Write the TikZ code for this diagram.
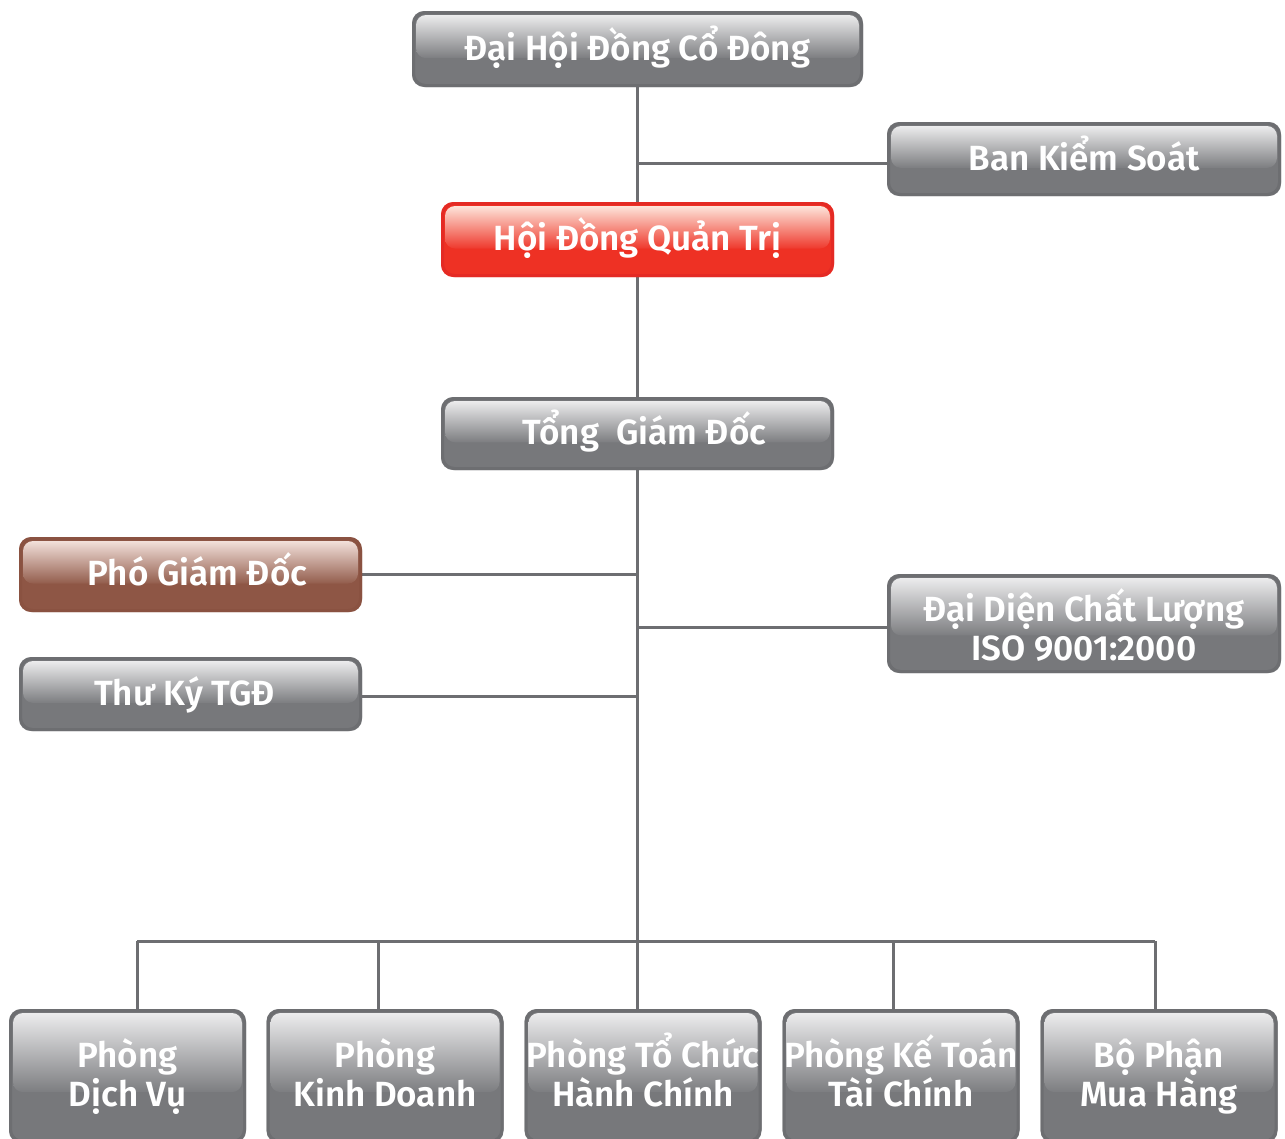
\documentclass[tikz,border=0pt]{standalone}
\usepackage{fontspec}
\IfFontExistsTF{Fira Sans SemiBold}
  {\newfontfamily\fsemi{Fira Sans SemiBold}\newcommand\boxweight{}}
  {\newfontfamily\fsemi{Fira Sans}\newcommand\boxweight{\bfseries}}
\usetikzlibrary{calc,backgrounds}
\newcommand\linetop[1]{\rule{0pt}{#1}}
\newcommand\linebot[1]{\rule[-#1]{0pt}{#1}}
\definecolor{gbase}{HTML}{77787B}
\definecolor{gbord}{HTML}{6D6E71}
\definecolor{ghi}{HTML}{ECECED}
\definecolor{rbase}{HTML}{EE3124}
\definecolor{rbord}{HTML}{E42A24}
\definecolor{rhi}{HTML}{FDE4DA}
\definecolor{bbase}{HTML}{8E5645}
\definecolor{bbord}{HTML}{8A5241}
\definecolor{bhi}{HTML}{F2E0DA}
\definecolor{wire}{HTML}{6D6E71}
\pgfdeclareverticalshading{glossg}{100bp}{color(0bp)=(gbase!96!white); color(25bp)=(gbase!96!white); color(75bp)=(ghi); color(100bp)=(ghi)}
\pgfdeclareverticalshading{glossr}{100bp}{color(0bp)=(rbase!96!white); color(25bp)=(rbase!96!white); color(75bp)=(rhi); color(100bp)=(rhi)}
\pgfdeclareverticalshading{glossb}{100bp}{color(0bp)=(bbase!96!white); color(25bp)=(bbase!96!white); color(75bp)=(bhi); color(100bp)=(bhi)}
\tikzset{
  box/.style={draw=#1, line width=3pt, rounded corners=12pt,
    text=white, font=\fsemi\boxweight\fontsize{35}{39}\selectfont, align=center, inner sep=0pt},
  gbox/.style={box=gbord},
  rbox/.style={box=rbord},
  bbox/.style={box=bbord},
  oneline/.style={text height=26pt, text depth=4pt},
  wireline/.style={draw=wire, line width=3pt},
  boxfill/.style={fill=#1, rounded corners=12pt},
  gloss/.style={shading=#1, rounded corners=10pt},
  dept/.style={gbox, minimum width=234pt, minimum height=131pt},
}
\begin{document}
\begin{tikzpicture}
\useasboundingbox (0,0) rectangle (1285pt,-1138pt);
% coordinates
\coordinate (bus) at (637.5pt,-941pt);
\coordinate (busL) at (137pt,-941pt);
\coordinate (busR) at (1155pt,-941pt);
\coordinate (b2) at (378pt,-941pt);
\coordinate (b4) at (893pt,-941pt);
% nodes
\node[gbox, oneline, minimum width=448pt, minimum height=73pt] (dh) at (637.5pt,-49pt) {Đại Hội Đồng Cổ Đông};
\node[gbox, oneline, minimum width=391pt, minimum height=71pt] (bks) at (1084pt,-159pt) {Ban Kiểm Soát};
\node[rbox, oneline, minimum width=390pt, minimum height=72pt] (hdqt) at (637.5pt,-239.5pt) {Hội Đồng Quản Trị};
\node[gbox, oneline, minimum width=390pt, minimum height=70pt] (tgd) at (637.5pt,-433.5pt) {\hspace*{14pt}Tổng\ \ Giám Đốc};
\node[bbox, oneline, minimum width=340pt, minimum height=72pt] (pgd) at (190.5pt,-574.5pt) {\hspace*{14pt}Phó Giám Đốc};
\node[gbox, oneline, minimum width=340pt, minimum height=71pt] (tk) at (190.5pt,-694pt) {Thư Ký TGĐ\hspace*{12pt}};
\node[gbox, minimum width=391pt, minimum height=96pt] (dd) at (1084pt,-623.5pt) {\linetop{38pt}Đại Diện Chất Lượng\\ISO 9001:2000\linebot{4pt}};
\node[dept] (p1) at (127.5pt,-1076pt) {\linetop{36pt}Phòng\\Dịch Vụ\linebot{15pt}};
\node[dept] (p2) at (385pt,-1076pt) {\linetop{36pt}Phòng\\Kinh Doanh\linebot{15pt}};
\node[dept] (p3) at (643pt,-1076pt) {\linetop{36pt}Phòng Tổ Chức\\Hành Chính\linebot{15pt}};
\node[dept] (p4) at (901pt,-1076pt) {\linetop{36pt}Phòng Kế Toán\\Tài Chính\linebot{15pt}};
\node[dept] (p5) at (1159pt,-1076pt) {\linetop{36pt}Bộ Phận\\Mua Hàng\linebot{15pt}};
\begin{pgfonlayer}{background}
% connectors
\draw[wireline] (dh.south) -- (bus);
\draw[wireline] (busL) -- (busR);
\draw[wireline] ([yshift=-4pt]bks.west) -- ([yshift=-4pt]bks.west -| dh.south);
\draw[wireline] (pgd.east) -- (pgd.east -| dh.south);
\draw[wireline] ([yshift=-4pt]dd.west) -- ([yshift=-4pt]dd.west -| dh.south);
\draw[wireline] ([yshift=-2pt]tk.east) -- ([yshift=-2pt]tk.east -| dh.south);
\draw[wireline] (busL) -- ([yshift=-6pt]busL |- p1.north);
\draw[wireline] (b2) -- (b2 |- p2.north);
\draw[wireline] (bus) -- (bus |- p3.north);
\draw[wireline] (b4) -- (b4 |- p4.north);
\draw[wireline] (busR) -- ([yshift=-6pt]busR |- p5.north);
% box fills and gloss
\foreach \n/\c in {dh/g,bks/g,hdqt/r,tgd/g,pgd/b,tk/g,dd/g,p1/g,p2/g,p3/g,p4/g,p5/g}{
  \fill[boxfill=\c base] (\n.north west) rectangle (\n.south east);
  \shade[gloss=gloss\c] ([shift={(4pt,-4pt)}]\n.north west) rectangle ($(\n.north east)!0.62!(\n.south east)+(-4pt,0pt)$);
}
\end{pgfonlayer}
\end{tikzpicture}
\end{document}
